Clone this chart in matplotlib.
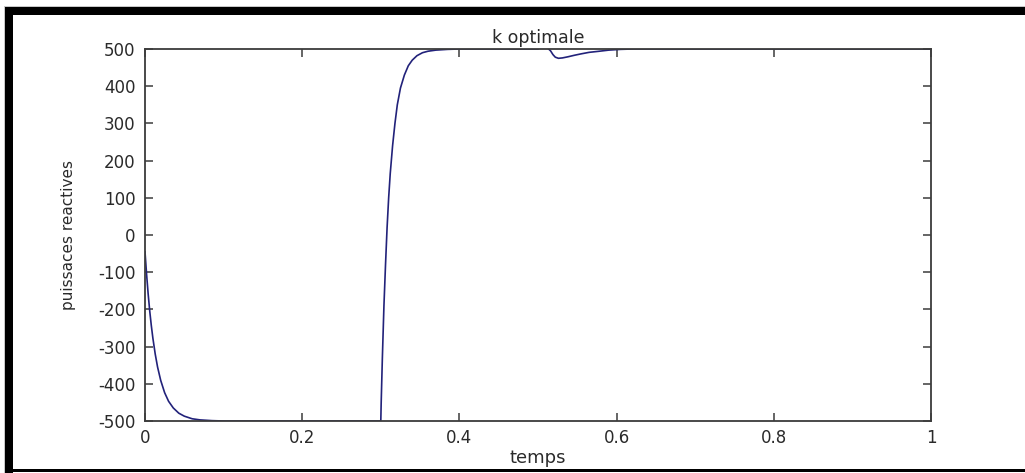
import matplotlib
matplotlib.use("Agg")
import matplotlib.pyplot as plt
from matplotlib.patches import Rectangle

# Reactive power response over time (samples of the simulated trace)
temps = [0.000, 0.002, 0.004, 0.006, 0.008, 0.010, 0.013, 0.016, 0.020, 0.025,
         0.030, 0.036, 0.043, 0.050, 0.060, 0.070, 0.085, 0.100, 0.200, 0.300,
         0.3005, 0.302, 0.304, 0.306, 0.308, 0.310, 0.312, 0.315, 0.318, 0.321,
         0.325, 0.330, 0.335, 0.340, 0.346, 0.353, 0.360, 0.370, 0.385, 0.400,
         0.450, 0.500, 0.505, 0.512, 0.516, 0.519, 0.522, 0.526, 0.531, 0.538,
         0.546, 0.555, 0.565, 0.578, 0.590, 0.605, 0.620, 0.800, 1.000]
puissance = [-45, -105, -158, -204, -243, -277, -320, -355, -391, -424,
             -447, -465, -479, -487, -494, -497, -499, -500, -500, -500,
             -450, -330, -190, -80, 20, 100, 165, 240, 300, 350,
             395, 430, 455, 470, 482, 490, 494, 497, 499, 500,
             500, 500, 505, 503, 495, 485, 478, 475, 476, 479,
             483, 487, 491, 494, 497, 499, 500, 500, 500]

x_ticks = [0, 0.2, 0.4, 0.6, 0.8, 1]
x_ticklabels = ["0", "0.2", "0.4", "0.6", "0.8", "1"]
y_ticks = [-500, -400, -300, -200, -100, 0, 100, 200, 300, 400, 500]

W, H = 1025, 473
plt.rcParams["font.family"] = ["DejaVu Sans"]
plt.rcParams["axes.unicode_minus"] = False
fig = plt.figure(figsize=(W / 100, H / 100), dpi=100, facecolor="white")

# Black picture frame (pixel coordinates converted to figure fractions)
def px_rect(x0, y0, x1, y1, color):
    fig.add_artist(Rectangle((x0 / W, 1 - y1 / H), (x1 - x0) / W, (y1 - y0) / H,
                             transform=fig.transFigure, facecolor=color,
                             edgecolor="none", zorder=0))

px_rect(4, 6, W, 7, "#c8c8c8")
px_rect(4, 6, 5, H, "#c8c8c8")
px_rect(5, 7, W, 15, "black")
px_rect(5, 7, 13, H, "black")
px_rect(5, 469, W, 472, "black")

ax = fig.add_axes([145 / W, 1 - 421 / H, (931 - 145) / W, (421 - 49) / H])
ax.plot(temps, puissance, color="#22227a", linewidth=1.2, clip_on=True)

ax.set_xlim(0, 1)
ax.set_ylim(-500, 500)
ax.set_xticks(x_ticks)
ax.set_xticklabels(x_ticklabels)
ax.set_yticks(y_ticks)

tick_color = "#2a2a2a"
for s in ax.spines.values():
    s.set_color("#3c3c3c")
    s.set_linewidth(1.3)
ax.tick_params(direction="in", length=6, width=1.1, color="#3c3c3c",
               top=True, right=True, labelsize=12, labelcolor=tick_color)
ax.tick_params(axis="x", pad=6)
ax.tick_params(axis="y", pad=7)

ax.set_title("k optimale", fontsize=12.5, color=tick_color, pad=4)
ax.set_xlabel("temps", fontsize=13, color=tick_color, labelpad=1)
ax.set_ylabel("puissaces reactives", fontsize=11, color=tick_color, labelpad=16)

fig.savefig("out.png", dpi=100, facecolor="white")
